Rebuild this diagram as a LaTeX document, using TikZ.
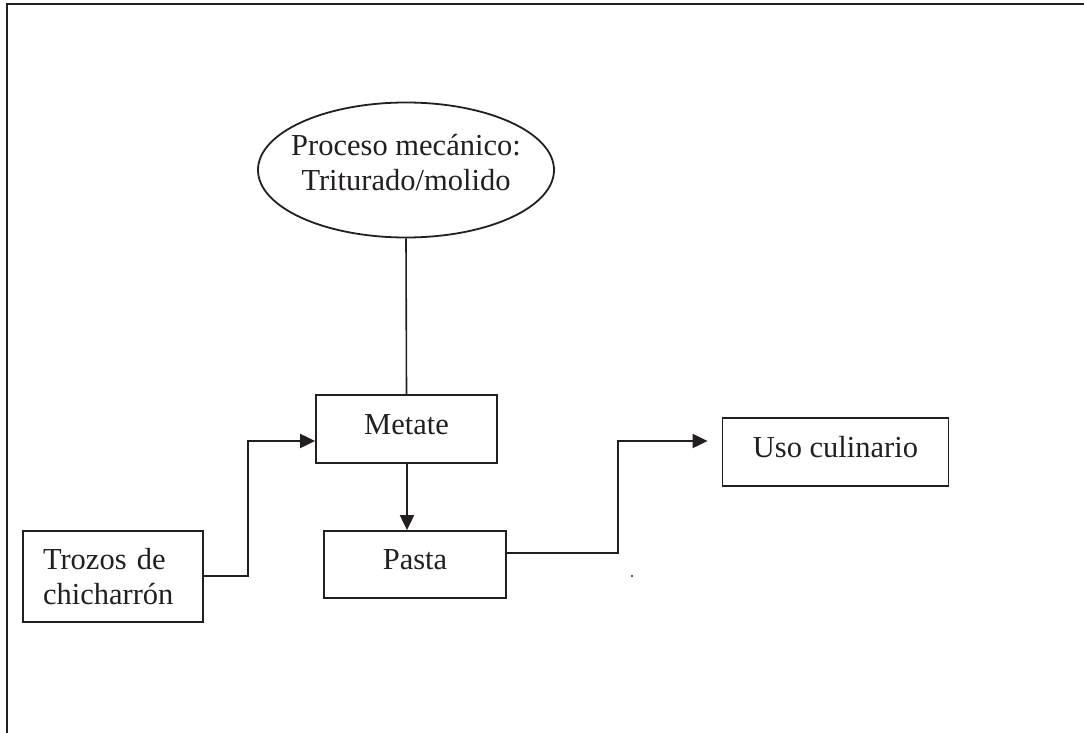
\documentclass[tikz,border=0pt]{standalone}
\usepackage{fontspec}
\setmainfont{Liberation Serif}
\usetikzlibrary{arrows.meta,shapes.geometric}
\definecolor{ink}{HTML}{231F20}
\begin{document}
\begin{tikzpicture}[x=1pt,y=-1pt,
  every node/.style={font=\fontsize{30.5}{35}\selectfont, text=ink},
  box/.style={draw=ink, line width=1.8pt, inner sep=0pt, text height=20pt, text depth=10pt},
  link/.style={draw=ink, line width=2pt},
  tip/.style={-{Triangle[length=15pt,width=14pt]}}
]
\useasboundingbox (0,0) rectangle (1084,733);
% open outer frame
\draw[ink, line width=2.6pt] (1084,4) -- (7,4) -- (7,733);

% process ellipse and its caption
\node[ellipse, draw=ink, line width=1.8pt, minimum width=296pt, minimum height=135pt, inner sep=0pt] (proc) at (406,170) {};
\node[align=center, inner sep=0pt] (proctext) at (406,163) {Proceso mecánico:\\Triturado/molido};

% boxes
\node[box, minimum width=181pt, minimum height=68pt] (metate) at (406.5,429) {Metate};
\node[box, minimum width=182pt, minimum height=67pt] (pasta) at (415,564.5) {Pasta};
\node[box, minimum width=226pt, minimum height=68pt] (uso) at (835.5,452) {Uso culinario};
\node[draw=ink, line width=1.8pt, minimum width=180pt, minimum height=91pt, text width=140pt, inner xsep=20pt, inner ysep=0pt, align=left] (trozos) at (113,576.5) {Trozos de\\chicharrón};

% connectors
\draw[link, line width=1.6pt] (proc.south) -- (metate.north);
\draw[link, tip] (trozos.east |- 0,576) -- (248,576) -- (248,441) -- (metate.west |- 0,441);
\draw[link, tip] (metate.south -| 407,0) -- (pasta.north -| 407,0);
\draw[link, tip, shorten >=14pt] (pasta.east |- 0,553) -- (618,553) -- (618,441) -- (uso.west |- 0,441);

% stray mark
\fill[ink] (632,576) circle (1.2pt);
\end{tikzpicture}
\end{document}
